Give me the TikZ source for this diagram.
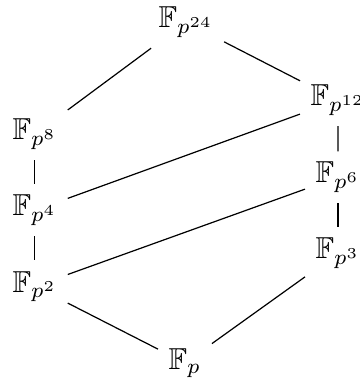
\documentclass[tikz,border=0pt]{standalone}
\usepackage{amssymb}
\begin{document}
\begin{tikzpicture}[x=0.33pt,y=-0.33pt,
  fld/.style={anchor=base west},
  edge/.style={draw, line width=0.4pt}]
\useasboundingbox (0,0) rectangle (359,378);
\node[fld] (p24) at (148,28) {$\mathbb{F}_{p^{24}}$};
\node[fld] (p12) at (300,106) {$\mathbb{F}_{p^{12}}$};
\node[fld] (p8)  at (2,140)   {$\mathbb{F}_{p^{8}}$};
\node[fld] (p6)  at (305,183) {$\mathbb{F}_{p^{6}}$};
\node[fld] (p4)  at (2,216)   {$\mathbb{F}_{p^{4}}$};
\node[fld] (p3)  at (305,259) {$\mathbb{F}_{p^{3}}$};
\node[fld] (p2)  at (2,292)   {$\mathbb{F}_{p^{2}}$};
\node[fld] (p1)  at (158,369) {$\mathbb{F}_{p}$};
\draw[edge] (p24) -- (p8);
\draw[edge] (p24) -- (p12);
\draw[edge] (p12) -- (p6);
\draw[edge] (p6) -- (p3);
\draw[edge] (p8) -- (p4);
\draw[edge] (p4) -- (p2);
\draw[edge] (p12) -- (p4);
\draw[edge] (p6) -- (p2);
\draw[edge] (p2) -- (p1);
\draw[edge] (p3) -- (p1);
\end{tikzpicture}
\end{document}
